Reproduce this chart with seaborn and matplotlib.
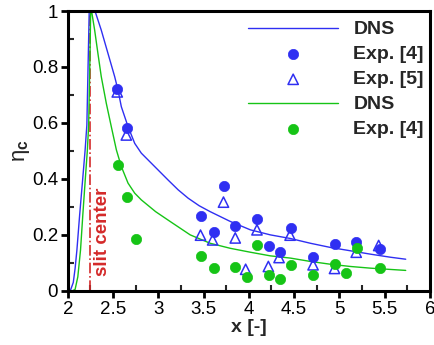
import numpy as np
import pandas as pd
import matplotlib
matplotlib.use("Agg")
import matplotlib.pyplot as plt
import seaborn as sns

# ---- data ----
dns_blue_x = [2.0, 2.03, 2.06, 2.08, 2.10, 2.13, 2.163, 2.19, 2.21, 2.236, 2.26, 2.296,
              2.369, 2.443, 2.517, 2.554, 2.591, 2.665, 2.739, 2.812, 2.886, 2.997, 3.108,
              3.219, 3.33, 3.452, 3.573, 3.795, 4.017, 4.238, 4.46, 4.681, 4.903, 5.125,
              5.346, 5.568, 5.734]
dns_blue_y = [0.0, 0.003, 0.03, 0.08, 0.146, 0.27, 0.396, 0.50, 0.593, 1.0, 1.1, 1.004,
              0.932, 0.849, 0.766, 0.718, 0.658, 0.587, 0.527, 0.492, 0.468, 0.432, 0.396,
              0.361, 0.331, 0.304, 0.283, 0.248, 0.218, 0.200, 0.187, 0.170, 0.155, 0.143,
              0.131, 0.120, 0.113]

dns_green_x = [2.0, 2.05, 2.08, 2.11, 2.14, 2.165, 2.192, 2.215, 2.23, 2.245, 2.252, 2.256,
               2.262, 2.296, 2.332, 2.369, 2.425, 2.48, 2.536, 2.591, 2.665, 2.739, 2.812,
               2.97, 3.13, 3.352, 3.573, 3.795, 4.017, 4.238, 4.46, 4.681, 4.903, 5.125,
               5.346, 5.734]
dns_green_y = [0.0, 0.0, 0.005, 0.05, 0.146, 0.27, 0.396, 0.50, 0.593, 0.85, 1.0, 1.02,
               1.0, 0.932, 0.849, 0.766, 0.670, 0.587, 0.504, 0.444, 0.385, 0.349, 0.325,
               0.283, 0.248, 0.200, 0.170, 0.152, 0.138, 0.125, 0.117, 0.105, 0.095, 0.087,
               0.081, 0.073]

exp4_blue_x = [2.546, 2.657, 3.466, 3.61, 3.725, 3.85, 4.09, 4.22, 4.342, 4.463, 4.71, 4.947, 5.187, 5.446]
exp4_blue_y = [0.720, 0.582, 0.268, 0.210, 0.375, 0.233, 0.257, 0.161, 0.140, 0.223, 0.120, 0.168, 0.173, 0.148]

exp5_blue_x = [2.546, 2.646, 3.466, 3.60, 3.72, 3.85, 3.965, 4.09, 4.216, 4.334, 4.456, 4.71, 4.947, 5.187, 5.435]
exp5_blue_y = [0.711, 0.557, 0.199, 0.182, 0.317, 0.189, 0.077, 0.218, 0.087, 0.119, 0.199, 0.093, 0.080, 0.138, 0.162]

exp4_green_x = [2.55, 2.657, 2.753, 3.466, 3.61, 3.85, 3.983, 4.09, 4.22, 4.342, 4.463, 4.71, 4.947, 5.07, 5.195, 5.446]
exp4_green_y = [0.448, 0.335, 0.186, 0.123, 0.082, 0.086, 0.051, 0.164, 0.055, 0.044, 0.093, 0.057, 0.096, 0.064, 0.154, 0.082]

slit_x = 2.245

x_ticks = [2, 2.5, 3, 3.5, 4, 4.5, 5, 5.5, 6]
x_ticklabels = ["2", "2.5", "3", "3.5", "4", "4.5", "5", "5.5", "6"]
y_ticks = [0, 0.2, 0.4, 0.6, 0.8, 1.0]
y_ticklabels = ["0", "0.2", "0.4", "0.6", "0.8", "1"]

# ---- style ----
sns.set_style("white")
plt.rcParams["font.family"] = ["Liberation Sans", "DejaVu Sans"]
plt.rcParams["mathtext.fontset"] = "custom"
plt.rcParams["mathtext.rm"] = "Liberation Sans"
plt.rcParams["mathtext.it"] = "Liberation Sans"
plt.rcParams["mathtext.bf"] = "Liberation Sans:bold"

BLUE = "#2f2ff2"
GREEN = "#16c416"
RED = "#d42a2a"

fig = plt.figure(figsize=(4.35, 3.45), dpi=100)
ax = fig.add_axes([0.156, 0.157, 0.832, 0.811])

sns.lineplot(x=dns_blue_x, y=dns_blue_y, sort=False, estimator=None, color=BLUE,
             linewidth=1.0, label="DNS", ax=ax, zorder=2)
sns.scatterplot(x=exp4_blue_x, y=exp4_blue_y, color=BLUE, edgecolor=BLUE, s=55,
                marker="o", linewidth=0.5, label="Exp. [4]", ax=ax, zorder=3)
sns.scatterplot(x=exp5_blue_x, y=exp5_blue_y, color=BLUE, facecolors="none", edgecolor=BLUE,
                s=55, marker="^", linewidth=1.1, label="Exp. [5]", ax=ax, zorder=3)
sns.lineplot(x=dns_green_x, y=dns_green_y, sort=False, estimator=None, color=GREEN,
             linewidth=1.0, label="DNS", ax=ax, zorder=2)
sns.scatterplot(x=exp4_green_x, y=exp4_green_y, color=GREEN, edgecolor=GREEN, s=55,
                marker="o", linewidth=0.5, label="Exp. [4]", ax=ax, zorder=3)

ax.plot([slit_x, slit_x], [0, 1], color=RED, linestyle="-.", linewidth=1.2, zorder=1)
ax.text(2.387, 0.211, "slit center", rotation=90, color=RED, fontsize=13.5,
        fontweight="bold", ha="center", va="center")

ax.set_xlim(2, 6)
ax.set_ylim(0, 1)
ax.set_xticks(x_ticks)
ax.set_xticklabels(x_ticklabels)
ax.set_yticks(y_ticks)
ax.set_yticklabels(y_ticklabels)
ax.set_xticks(np.arange(2.25, 6, 0.5), minor=True)
ax.set_yticks(np.arange(0.1, 1.0, 0.2), minor=True)
ax.tick_params(which="major", direction="out", length=5, width=2, labelsize=13.5,
               colors="black", pad=2, bottom=True, left=True)
ax.tick_params(which="minor", direction="in", length=4, width=1.5, bottom=True, left=True)

for sp in ax.spines.values():
    sp.set_linewidth(2.2)
    sp.set_color("black")

ax.set_xlabel("x [-]", fontsize=14, fontweight="bold", labelpad=1)
ax.set_ylabel(r"$\mathrm{\eta}_\mathbf{c}$", fontsize=16, labelpad=0)

leg = ax.legend(loc="upper right", bbox_to_anchor=(1.0, 0.986), frameon=False,
                prop={"size": 14, "weight": "bold"}, handlelength=4.6,
                handletextpad=0.8, labelspacing=0.38, borderaxespad=0.0, borderpad=0.3)

fig.savefig("out.png", dpi=100, facecolor="white")
